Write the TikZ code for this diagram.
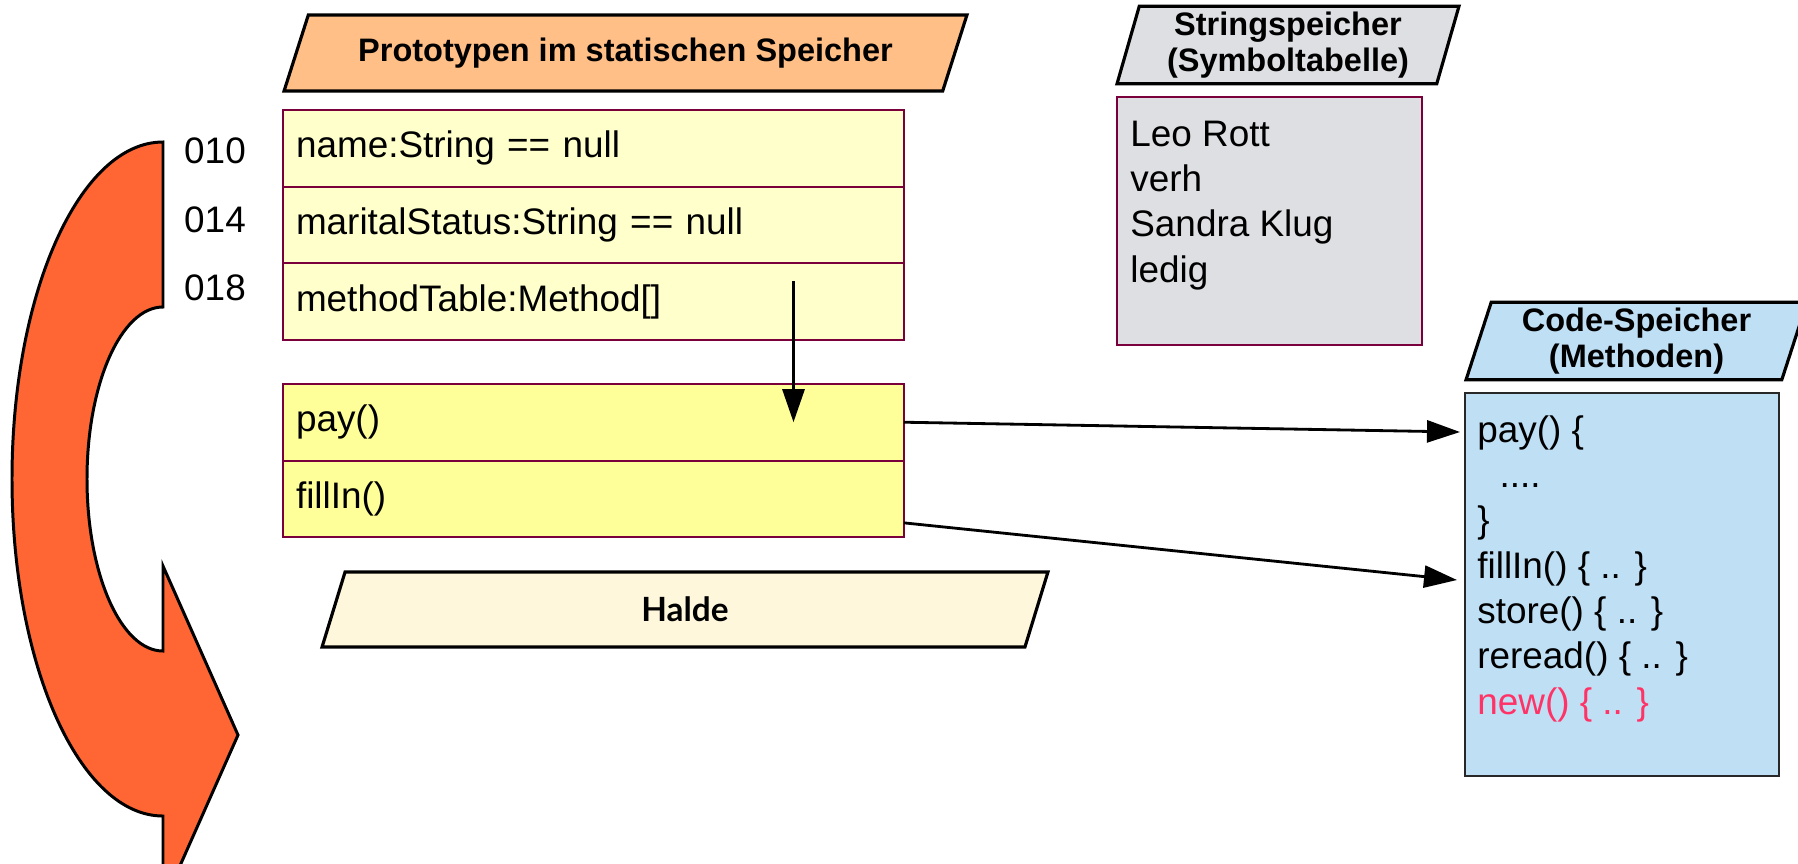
\documentclass[tikz,border=0pt]{standalone}
\usepackage{fontspec}
\setmainfont{Liberation Sans}
\newfontfamily\haldefont{Lato}
\usetikzlibrary{positioning,shapes.geometric,arrows.meta,calc}
\definecolor{memline}{RGB}{122,0,60}
\definecolor{codeline}{RGB}{40,40,40}
\definecolor{fieldfill}{RGB}{255,255,204}
\definecolor{methfill}{RGB}{255,255,153}
\definecolor{strfill}{RGB}{221,223,227}
\definecolor{codefill}{RGB}{191,223,245}
\definecolor{protofill}{RGB}{255,191,135}
\definecolor{haldefill}{RGB}{255,247,220}
\definecolor{turnfill}{RGB}{255,102,51}
\definecolor{newred}{RGB}{255,51,102}
\newcommand{\bodyfont}{\fontsize{21}{25.8}\selectfont}
\newcommand{\headfont}{\fontsize{18.5}{20.2}\selectfont\bfseries}

\begin{document}
\begin{tikzpicture}[x=0.02cm, y=-0.02cm, field/.style={draw=memline, line width=1.1pt, rectangle, fill=fieldfill, minimum height=1.533cm, text width=11.9cm, inner xsep=0.26cm, outer sep=0pt, align=left, font=\bodyfont}, meth/.style={field, fill=methfill}, area/.style={draw=memline, line width=1.1pt, rectangle, outer sep=0pt, inner sep=0pt}, listing/.style={anchor=north west, inner sep=0pt, align=left, font=\bodyfont}, head/.style={draw, line width=1.8pt, trapezium, trapezium stretches body, outer sep=0pt, minimum height=1.52cm, align=center, font=\headfont}, addr/.style={font=\bodyfont, inner sep=0pt}, ptr/.style={-{Triangle[length=0.66cm, width=0.44cm]}, line width=1.6pt}]
    \useasboundingbox (0,0) rectangle (1798,863);
    % turning arrow
    \begin{scope}
    \clip (0,0) rectangle (1798,863);
    \draw[line width=1.7pt, fill=turnfill] (163,142) arc[start angle=270, end angle=90, x radius=151, y radius=337] -- (163,904) -- (238,735) -- (163,566) -- (163,651) arc[start angle=90, end angle=270, x radius=76, y radius=172] -- cycle;
    \end{scope}
    % headers
    \node[head, fill=protofill, trapezium left angle=60, trapezium right angle=120, minimum width=13.66cm] (protohead) at (625.5,53) {Prototypen im statischen Speicher};
    \node[head, fill=strfill, trapezium left angle=74, trapezium right angle=106, minimum width=6.84cm] (strhead) at (1288,45) {Stringspeicher\\(Symboltabelle)};
    \node[head, fill=codefill, trapezium left angle=72, trapezium right angle=108, minimum width=6.82cm] (codehead) at (1636.5,341) {Code-Speicher\\(Methoden)};
    \node[head, fill=haldefill, font=\fontsize{19}{21}\selectfont\haldefont\bfseries, trapezium left angle=58, trapezium right angle=122, minimum width=14.52cm, minimum height=1.5cm] (halde) at (685,609.5) {Halde};
    % prototype
    \node[field, anchor=north west] (name) at (283,110) {name:String == null};
    \node[field, below=0pt of name] (status) {maritalStatus:String == null};
    \node[field, below=0pt of status] (table) {methodTable:Method[]};
    \node[meth, below=0.88cm of table] (pay) {pay()};
    \node[meth, below=0pt of pay] (fillin) {fillIn()};
    % addresses
    \node[addr] (a010) at (215,151) {010};
    \node[addr] (a014) at (215,220) {014};
    \node[addr] (a018) at (215,288) {018};
    % string and code memory
    \node[area, fill=strfill, anchor=north west, minimum width=6.1cm, minimum height=4.96cm] (strbox) at (1117,97) {};
    \node[listing, xshift=0.26cm, yshift=-0.47cm] (strings) at (strbox.north west) {Leo Rott\\verh\\Sandra Klug\\ledig};
    \node[area, draw=codeline, fill=codefill, anchor=north west, minimum width=6.28cm, minimum height=7.66cm] (codebox) at (1465,393) {};
    \node[listing, xshift=0.24cm, yshift=-0.44cm] (code) at (codebox.north west) {pay() \{\\\hspace*{0.6em}....\\\}\\fillIn() \{ .. \}\\store() \{ .. \}\\reread() \{ .. \}\\\textcolor{newred}{new() \{ .. \}}};
    % arrows
    \coordinate (tabptr) at (793.5,281);
    \draw[ptr] (tabptr) -- (tabptr |- pay.center);
    \draw[ptr] (pay.east) -- ($(codebox.north west)+(-5,39)$);
    \draw[ptr] ([yshift=-0.48cm]fillin.east) -- ($(codebox.north west)+(-8,187)$);
\end{tikzpicture}
\end{document}
